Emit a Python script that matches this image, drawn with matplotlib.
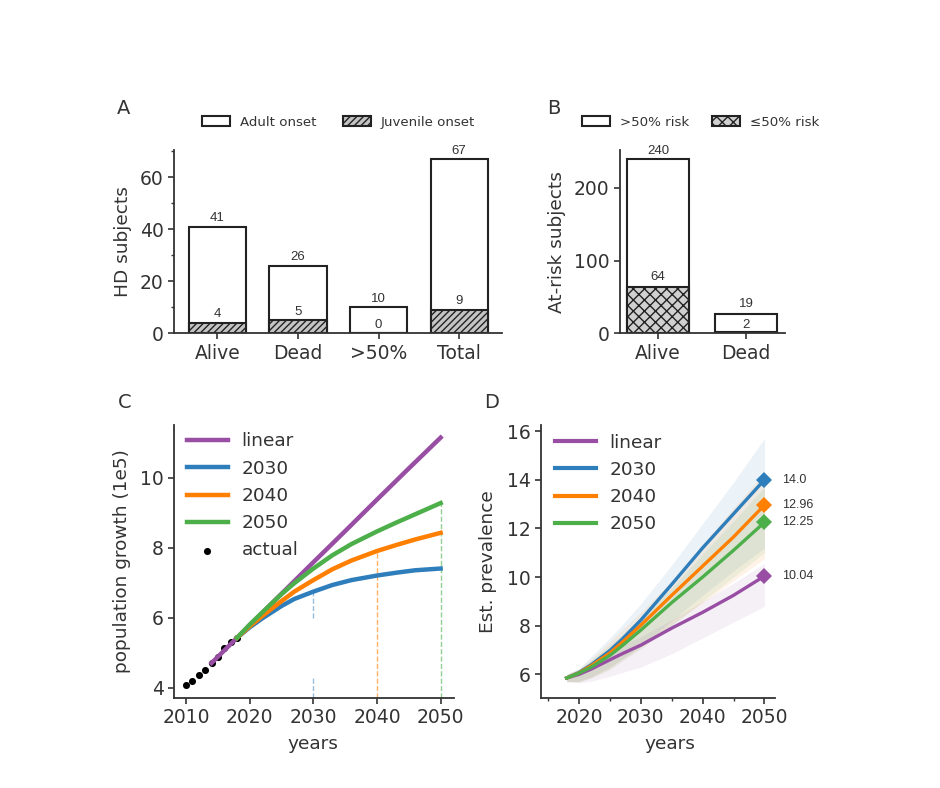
import matplotlib
matplotlib.use("Agg")
import matplotlib.pyplot as plt
from matplotlib.patches import Patch
from matplotlib.ticker import MultipleLocator

W, H = 940, 788
DARK = "#333333"
plt.rcParams.update({
    "font.family": "DejaVu Sans", "text.color": DARK, "axes.labelcolor": DARK,
    "xtick.color": DARK, "ytick.color": DARK, "axes.edgecolor": DARK,
    "axes.linewidth": 1.3, "hatch.linewidth": 1.0, "hatch.color": "#222222",
})

# Panel A
a_cats = ["Alive", "Dead", ">50%", "Total"]
a_adult = [41, 26, 10, 67]
a_juv = [4, 5, 0, 9]
# Panel B
b_cats = ["Alive", "Dead"]
b_high = [240, 26]
b_high_labels = ["240", "19"]
b_low = [64, 2]
# Panel C
years_fit = [2018, 2020, 2022, 2025, 2027, 2030, 2033, 2036, 2040, 2043, 2046, 2050]
years_linear = [2014, 2018, 2020, 2025, 2030, 2035, 2040, 2045, 2050]
c_linear = [4.70, 5.42, 5.78, 6.68, 7.58, 8.47, 9.37, 10.26, 11.14]
c_2030 = [5.42, 5.72, 5.98, 6.33, 6.53, 6.74, 6.93, 7.07, 7.20, 7.28, 7.35, 7.40]
c_2040 = [5.42, 5.75, 6.05, 6.47, 6.74, 7.07, 7.38, 7.63, 7.90, 8.07, 8.23, 8.42]
c_2050 = [5.42, 5.80, 6.15, 6.67, 6.98, 7.40, 7.78, 8.10, 8.46, 8.71, 8.95, 9.27]
years_actual = [2010, 2011, 2012, 2013, 2014, 2015, 2016, 2017, 2018]
c_actual = [4.07, 4.19, 4.35, 4.50, 4.70, 4.87, 5.13, 5.30, 5.42]
# Panel D
years_d = [2018, 2020, 2022, 2025, 2027, 2030, 2035, 2040, 2045, 2050]
d_linear = [5.85, 6.00, 6.22, 6.60, 6.85, 7.20, 7.90, 8.55, 9.25, 10.04]
d_2030 = [5.85, 6.08, 6.40, 6.98, 7.45, 8.23, 9.70, 11.20, 12.60, 14.00]
d_2040 = [5.85, 6.06, 6.36, 6.88, 7.32, 8.02, 9.25, 10.45, 11.65, 12.96]
d_2050 = [5.85, 6.05, 6.30, 6.78, 7.18, 7.82, 8.95, 10.00, 11.10, 12.25]
d_linear_lo = [5.70, 5.65, 5.72, 5.92, 6.08, 6.30, 6.85, 7.50, 8.15, 8.80]
d_linear_hi = [6.00, 6.15, 6.45, 6.95, 7.20, 7.55, 8.25, 9.00, 9.75, 10.56]
d_2030_lo = [5.70, 5.72, 5.90, 6.30, 6.65, 7.15, 8.20, 9.25, 10.25, 11.20]
d_2030_hi = [6.00, 6.25, 6.75, 7.50, 8.05, 8.90, 10.50, 12.20, 13.90, 15.70]
d_2040_lo = [5.70, 5.70, 5.88, 6.25, 6.60, 7.10, 8.05, 8.95, 9.85, 10.75]
d_2040_hi = [6.00, 6.22, 6.65, 7.35, 7.85, 8.55, 9.85, 11.35, 12.85, 14.30]
d_2050_lo = [5.70, 5.68, 5.85, 6.20, 6.55, 7.05, 8.00, 9.00, 10.00, 11.00]
d_2050_hi = [6.00, 6.20, 6.58, 7.20, 7.65, 8.30, 9.55, 10.95, 12.30, 13.70]
d_end_labels = ["10.04", "14.0", "12.96", "12.25"]

PURPLE, BLUE, ORANGE, GREEN = "#984ea3", "#2f7ebc", "#ff7f00", "#4daf4a"
series_names = ["linear", "2030", "2040", "2050"]
series_colors = [PURPLE, BLUE, ORANGE, GREEN]

fig = plt.figure(figsize=(W / 100, H / 100), dpi=100)


def make_axes(l, r, t, b):
    ax = fig.add_axes([l / W, 1 - b / H, (r - l) / W, (b - t) / H])
    ax.spines[["top", "right"]].set_visible(False)
    ax.tick_params(labelsize=13.5, length=4, width=1.2, pad=3.5)
    ax.tick_params(which="minor", length=2, width=1)
    return ax


def bar_label(ax, x, y, s, dy=4):
    ax.annotate(s, (x, y), xytext=(0, dy), textcoords="offset points", ha="center",
                va="baseline", fontsize=9.5, family="Liberation Sans", color="#333333")


def ylabel_at(ax, s, xpx, l, r):
    ax.set_ylabel(s, fontsize=13.3)
    ax.yaxis.set_label_coords((xpx - l) / (r - l), 0.5)


# ---------- A ----------
l, r, t, b = 174, 502, 150, 333.3
axA = make_axes(l, r, t, b)
xa = range(len(a_cats))
axA.bar(xa, a_adult, 0.71, color="white", edgecolor="#222222", linewidth=1.5)
axA.bar(xa, a_juv, 0.71, color="#c4c4c4", edgecolor="#222222", linewidth=1.5, hatch="/////")
for i in xa:
    bar_label(axA, i, a_adult[i], str(a_adult[i]))
    bar_label(axA, i, a_juv[i], str(a_juv[i]))
axA.set_xlim(-0.536, 3.53)
axA.set_ylim(0, 70.5)
axA.set_xticks(list(xa), a_cats)
axA.set_yticks([0, 20, 40, 60])
axA.yaxis.set_minor_locator(MultipleLocator(10))
ylabel_at(axA, "HD subjects", 132, l, r)
axA.legend(handles=[Patch(facecolor="white", edgecolor="#222222", linewidth=1.5, label="Adult onset"),
                    Patch(facecolor="#c4c4c4", edgecolor="#222222", linewidth=1.5, hatch="/////",
                          label="Juvenile onset")],
           ncol=2, frameon=False, fontsize=9.6, handlelength=2.1, handleheight=0.8,
           handletextpad=0.75, columnspacing=2.0, borderpad=0, borderaxespad=0,
           loc="center left", bbox_to_anchor=((201.5 - l) / (r - l), (b - 122.5) / (b - t)))

# ---------- B ----------
l, r, t, b = 620, 785, 150, 333.3
axB = make_axes(l, r, t, b)
xb = range(len(b_cats))
axB.bar(xb, b_high, 0.71, color="white", edgecolor="#222222", linewidth=1.5)
axB.bar(xb, b_low, 0.71, color="#d0d0d0", edgecolor="#222222", linewidth=1.5, hatch="xxx")
for i, dy_hi, dy_lo in zip(xb, [3.5, 5.5], [4.5, 3]):
    bar_label(axB, i, b_high[i], b_high_labels[i], dy=dy_hi)
    bar_label(axB, i, b_low[i], str(b_low[i]), dy=dy_lo)
axB.set_xlim(-0.43, 1.44)
axB.set_ylim(0, 252)
axB.set_xticks(list(xb), b_cats)
axB.set_yticks([0, 100, 200])
ylabel_at(axB, "At-risk subjects", 566, l, r)
axB.legend(handles=[Patch(facecolor="white", edgecolor="#222222", linewidth=1.5, label=">50% risk"),
                    Patch(facecolor="#d0d0d0", edgecolor="#222222", linewidth=1.5, hatch="xxx",
                          label="≤50% risk")],
           ncol=2, frameon=False, fontsize=9.6, handlelength=2.1, handleheight=0.8,
           handletextpad=0.75, columnspacing=1.75, borderpad=0, borderaxespad=0,
           loc="center left", bbox_to_anchor=((581.5 - l) / (r - l), (b - 122.5) / (b - t)))

# ---------- C ----------
l, r, t, b = 174, 454, 425, 697.7
axC = make_axes(l, r, t, b)
axC.set_xlim(2008.1, 2052.1)
axC.set_ylim(3.71, 11.5)
axC.scatter(years_actual, c_actual, s=26, color="black", zorder=2, label="actual", linewidths=0)
axC.plot(years_linear, c_linear, color=PURPLE, lw=3.2, zorder=3, label="linear")
for vals, col, nm, z in [(c_2030, BLUE, "2030", 4), (c_2040, ORANGE, "2040", 5), (c_2050, GREEN, "2050", 6)]:
    axC.plot(years_fit, vals, color=col, lw=3.2, zorder=z, label=nm)
axC.vlines(2030, 3.71, 4.3, color=BLUE, lw=1, ls="--", alpha=0.5)
axC.vlines(2030, 6.0, c_2030[5], color=BLUE, lw=1, ls="--", alpha=0.5)
axC.vlines(2040, 3.71, c_2040[8], color=ORANGE, lw=1, ls="--", alpha=0.6)
axC.vlines(2050, 3.71, c_2050[-1], color=GREEN, lw=1, ls="--", alpha=0.6)
axC.set_xticks([2010, 2020, 2030, 2040, 2050])
axC.set_yticks([4, 6, 8, 10])
ylabel_at(axC, "population growth (1e5)", 131, l, r)
axC.set_xlabel("years", fontsize=13.3)
axC.xaxis.set_label_coords((313 - l) / (r - l), -0.135)
h, lb = axC.get_legend_handles_labels()
order = [lb.index(n) for n in series_names + ["actual"]]
axC.legend([h[i] for i in order], [lb[i] for i in order], frameon=False, fontsize=13.3,
           handlelength=2.2, handletextpad=0.75, labelspacing=0.5, borderpad=0, borderaxespad=0,
           loc="upper left", bbox_to_anchor=((187 - l) / (r - l), (b - 432.5) / (b - t)))

# ---------- D ----------
l, r, t, b = 541.3, 775, 425, 697.7
axD = make_axes(l, r, t, b)
axD.set_xlim(2013.9, 2051.7)
axD.set_ylim(5.04, 16.25)
bands = [(d_linear_lo, d_linear_hi), (d_2030_lo, d_2030_hi), (d_2040_lo, d_2040_hi), (d_2050_lo, d_2050_hi)]
lines = [d_linear, d_2030, d_2040, d_2050]
for (lo, hi), col in zip(bands, series_colors):
    axD.fill_between(years_d, lo, hi, color=col, alpha=0.09, linewidth=0)
for vals, col, nm, end in zip(lines, series_colors, series_names, d_end_labels):
    axD.plot(years_d, vals, color=col, lw=2.4, label=nm, zorder=4)
    axD.plot(years_d[-1], vals[-1], marker="D", ms=8.5, color=col, zorder=5, clip_on=False, mew=0)
    axD.annotate(end, (years_d[-1], vals[-1]), xytext=(13, 0), textcoords="offset points",
                 va="center", ha="left", fontsize=9, family="Liberation Sans",
                 color="#333333", annotation_clip=False)
axD.set_xticks([2020, 2030, 2040, 2050])
axD.xaxis.set_minor_locator(MultipleLocator(5))
axD.set_yticks([6, 8, 10, 12, 14, 16])
ylabel_at(axD, "Est. prevalence", 497, l, r)
axD.set_xlabel("years", fontsize=13.3)
axD.xaxis.set_label_coords((670 - l) / (r - l), -0.135)
legD = axD.legend(frameon=False, fontsize=13.3, handlelength=2.2, handletextpad=0.75, labelspacing=0.5,
                  borderpad=0, borderaxespad=0, loc="upper left",
                  bbox_to_anchor=((555 - l) / (r - l), (b - 433.5) / (b - t)))
for ln in legD.get_lines():
    ln.set_linewidth(3.0)

# Panel letters
for s, x, y in [("A", 124, 108), ("B", 554, 108), ("C", 125, 403), ("D", 492, 403)]:
    fig.text(x / W, 1 - y / H, s, fontsize=14, ha="center", va="center")

fig.savefig("out.png", dpi=100)
